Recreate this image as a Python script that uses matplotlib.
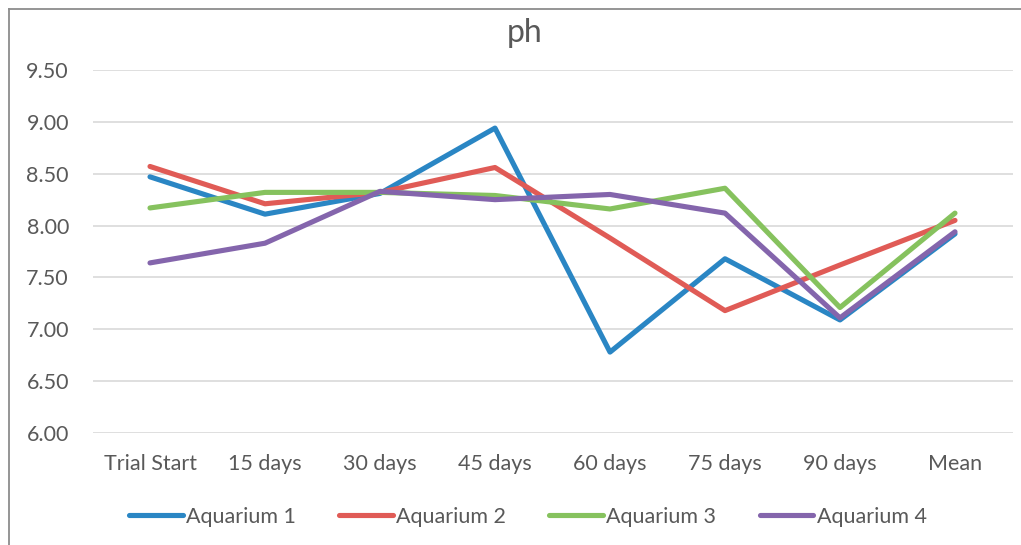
import matplotlib
matplotlib.use("Agg")
import matplotlib.pyplot as plt
from matplotlib.lines import Line2D

categories = ["Trial Start", "15 days", "30 days", "45 days", "60 days", "75 days", "90 days", "Mean"]
aquarium_1 = [8.47, 8.11, 8.31, 8.94, 6.78, 7.68, 7.09, 7.92]
aquarium_2 = [8.57, 8.21, 8.32, 8.56, 7.88, 7.18, 7.62, 8.05]
aquarium_3 = [8.17, 8.32, 8.32, 8.29, 8.16, 8.36, 7.21, 8.12]
aquarium_4 = [7.64, 7.83, 8.33, 8.25, 8.30, 8.12, 7.11, 7.94]
series_names = ["Aquarium 1", "Aquarium 2", "Aquarium 3", "Aquarium 4"]
yticks = [6.00, 6.50, 7.00, 7.50, 8.00, 8.50, 9.00, 9.50]
title = "ph"

colors = ["#2A86C4", "#E05B56", "#86C25E", "#8465AC"]
text_color = "#595959"
plt.rcParams["font.family"] = ["Lato", "DejaVu Sans"]

W, H = 1021, 545
fig = plt.figure(figsize=(W / 100, H / 100), dpi=100)
left, right, top, bottom = 92.5, 1012.5, 70, 433
ax = fig.add_axes([left / W, 1 - bottom / H, (right - left) / W, (bottom - top) / H])

x = list(range(len(categories)))
for name, vals, c in zip(series_names, [aquarium_1, aquarium_2, aquarium_3, aquarium_4], colors):
    ax.plot(x, vals, color=c, lw=3.7, solid_capstyle="round", solid_joinstyle="round",
            label=name, clip_on=False, zorder=3)

ax.set_xlim(-0.5, len(categories) - 0.5)
ax.set_ylim(6.0, 9.5)
ax.set_yticks(yticks)
ax.set_yticklabels([f"{v:.2f}" for v in yticks])
ax.set_xticks(x)
ax.set_xticklabels(categories)
ax.tick_params(axis="y", length=0, pad=17, labelsize=15.5, labelcolor=text_color)
ax.tick_params(axis="x", length=0, pad=15, labelsize=15.5, labelcolor=text_color)
ax.grid(axis="y", color="#D9D9D9", lw=1.2, zorder=0)
for s in ax.spines.values():
    s.set_visible(False)
ax.set_axisbelow(True)

fig.text(525 / W, 1 - 33 / H, title, ha="center", va="center", fontsize=23, color=text_color)

handles = [Line2D([], [], color=c, lw=3.7, solid_capstyle="round") for c in colors]
fig.legend(handles, series_names, loc="center", bbox_to_anchor=(528 / W, 1 - 517 / H),
           ncol=4, frameon=False, fontsize=15.5, labelcolor=text_color,
           handlelength=2.5, handletextpad=0.15, columnspacing=2.0)

# outer frame (left and top edges visible)
fig.add_artist(Line2D([8.5 / W, 8.5 / W], [0, 1 - 9 / H], color="#8C8C8C", lw=1.3, transform=fig.transFigure))
fig.add_artist(Line2D([8.5 / W, 1], [1 - 9 / H, 1 - 9 / H], color="#8C8C8C", lw=1.3, transform=fig.transFigure))

fig.savefig("out.png", dpi=100, facecolor="white")
